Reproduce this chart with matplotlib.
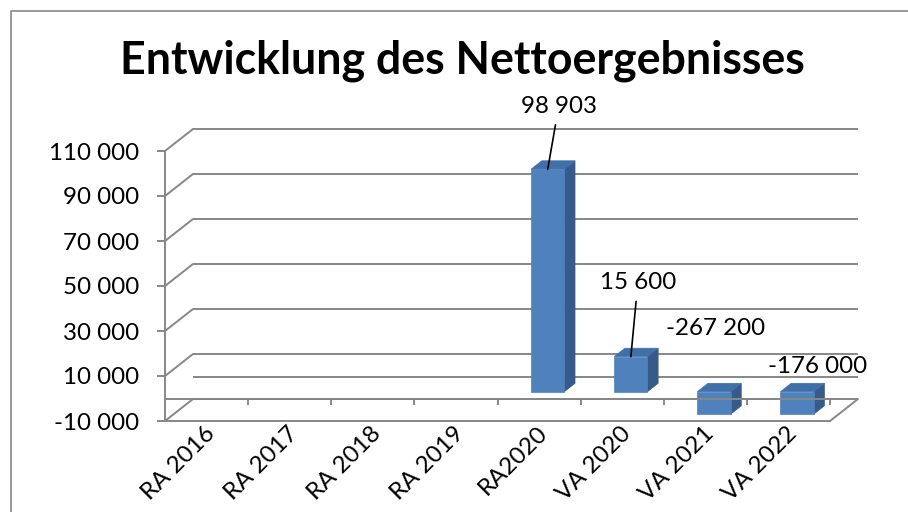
import numpy as np
import matplotlib
matplotlib.use("Agg")
import matplotlib.pyplot as plt
from matplotlib.patches import Polygon
from matplotlib.lines import Line2D
from matplotlib.transforms import ScaledTranslation

# ---------------- data ----------------
categories = ["RA 2016", "RA 2017", "RA 2018", "RA 2019", "RA2020",
              "VA 2020", "VA 2021", "VA 2022"]
values = [np.nan, np.nan, np.nan, np.nan, 98903, 15600, -267200, -176000]
y_ticks = [-10000, 10000, 30000, 50000, 70000, 90000, 110000]
title = "Entwicklung des Nettoergebnisses"

# ---------------- style / layout ----------------
W, H = 908, 512
FONT = "Lato"
plt.rcParams['font.family'] = [FONT, 'DejaVu Sans']
GRID = '#878787'
FRONT = '#4F81BD'
SIDE = '#365A8A'
TOP = '#4070A8'
DX, DY = 28, 22          # depth offset of the back wall in pixels
D0, D1 = 0.31, 0.69      # bar depth span (fraction of depth)
BAR_W = 0.40             # bar width in category units


def fmt(v):
    return f"{v:,.0f}".replace(",", " ")


fig = plt.figure(figsize=(W / 100, H / 100), dpi=100)
renderer = fig.canvas.get_renderer()


def fit_size(text, target_px, weight='normal', base=20):
    t = fig.text(0, 0, text, fontsize=base, fontweight=weight)
    w = t.get_window_extent(renderer).width
    t.remove()
    return base * target_px / w


title_fs = fit_size(title, 685, weight='bold')
tick_fs = fit_size("110 000", 90)

# frame (only top and left edges visible)
fig.add_artist(Line2D([11 / W, 11 / W, 1.0], [0.0, 1 - 11 / H, 1 - 11 / H],
                      transform=fig.transFigure, color=GRID, lw=1.2))

fig.text(462 / W, 1 - 74 / H, title, ha='center', va='baseline',
         fontsize=title_fs, fontweight='bold', color='black')

ax = fig.add_axes([165 / W, 1 - 421 / H, 665 / W, 270 / H])
n = len(categories)
ax.set_xlim(0, n)
ax.set_ylim(y_ticks[0], y_ticks[-1])
ax.patch.set_visible(False)
for s in ['top', 'right']:
    ax.spines[s].set_visible(False)
for s in ['left', 'bottom']:
    ax.spines[s].set_color(GRID)
    ax.spines[s].set_linewidth(1.4)
    ax.spines[s].set_zorder(1)

ax.set_yticks(y_ticks, [fmt(v) for v in y_ticks])
ax.tick_params(axis='y', length=5.8, width=1.4, color=GRID, pad=12.5,
               labelsize=tick_fs, labelcolor='black')
ax.set_xticks([])

scale = fig.dpi / 100.0


def P(x, v, d):
    px = ax.transData.transform((x, v)) + d * np.array([DX, DY]) * scale
    return ax.transData.inverted().transform(px)


# category labels, rotated 45 degrees below the floor
lab_shift = ScaledTranslation(5 / 100, -9 / 100, fig.dpi_scale_trans)
xtrans = ax.get_xaxis_transform() + lab_shift
for i, c in enumerate(categories):
    ax.text(i + 0.5, 0, c, transform=xtrans, rotation=45, ha='right',
            va='center', rotation_mode='anchor', fontsize=tick_fs,
            color='black', clip_on=False)


def line(pts, z=1, lw=1.4, color=GRID):
    pts = np.array(pts)
    ax.add_line(Line2D(pts[:, 0], pts[:, 1], color=color, lw=lw, zorder=z,
                       clip_on=False, solid_capstyle='butt'))


ymin = y_ticks[0]
# back wall / side wall gridlines
for v in y_ticks[1:]:
    line([P(0, v, 0), P(0, v, 1), P(n, v, 1)])
# floor
line([P(0, ymin, 0), P(0, ymin, 1), P(n, ymin, 1), P(n, ymin, 0)])
# back-wall zero line
line([P(0, 0, 1), P(n, 0, 1)])

# bars
for i, v in enumerate(values):
    if np.isnan(v):
        continue
    top = max(v, 0)
    bot = max(min(v, 0), ymin)
    x0, x1 = i + 0.5 - BAR_W / 2, i + 0.5 + BAR_W / 2
    front = [P(x0, bot, D0), P(x1, bot, D0), P(x1, top, D0), P(x0, top, D0)]
    side = [P(x1, bot, D0), P(x1, bot, D1), P(x1, top, D1), P(x1, top, D0)]
    topf = [P(x0, top, D0), P(x1, top, D0), P(x1, top, D1), P(x0, top, D1)]
    for poly, col in ((side, SIDE), (topf, TOP), (front, FRONT)):
        ax.add_patch(Polygon(poly, closed=True, facecolor=col, edgecolor=col,
                             lw=0.5, zorder=3, clip_on=False))

# category axis at zero (front), with tick marks between categories
line([P(0, 0, 0), P(n, 0, 0)], z=4)
tick_len = 6 * scale
for k in range(1, n + 1):
    p = ax.transData.transform(P(k, 0, 0))
    q = ax.transData.inverted().transform(p - np.array([0, tick_len]))
    line([P(k, 0, 0), q], z=4)

# data labels (offsets in pixels from the bar's front-top centre)
label_offsets = [None, None, None, None, (11, 63), (7, 74), (2, 63), (20, 25)]
for i, v in enumerate(values):
    if np.isnan(v):
        continue
    anchor = P(i + 0.5, max(v, 0), D0)
    off = label_offsets[i]
    arrow = dict(arrowstyle='-', color='black', lw=1.2, shrinkA=4, shrinkB=0) \
        if v > 0 else None
    ax.annotate(fmt(v), xy=anchor, xytext=(off[0] * 0.72, off[1] * 0.72),
                textcoords='offset points', ha='center', va='center',
                fontsize=tick_fs, color='black', arrowprops=arrow,
                zorder=5, annotation_clip=False)

fig.savefig("out.png", dpi=100)
